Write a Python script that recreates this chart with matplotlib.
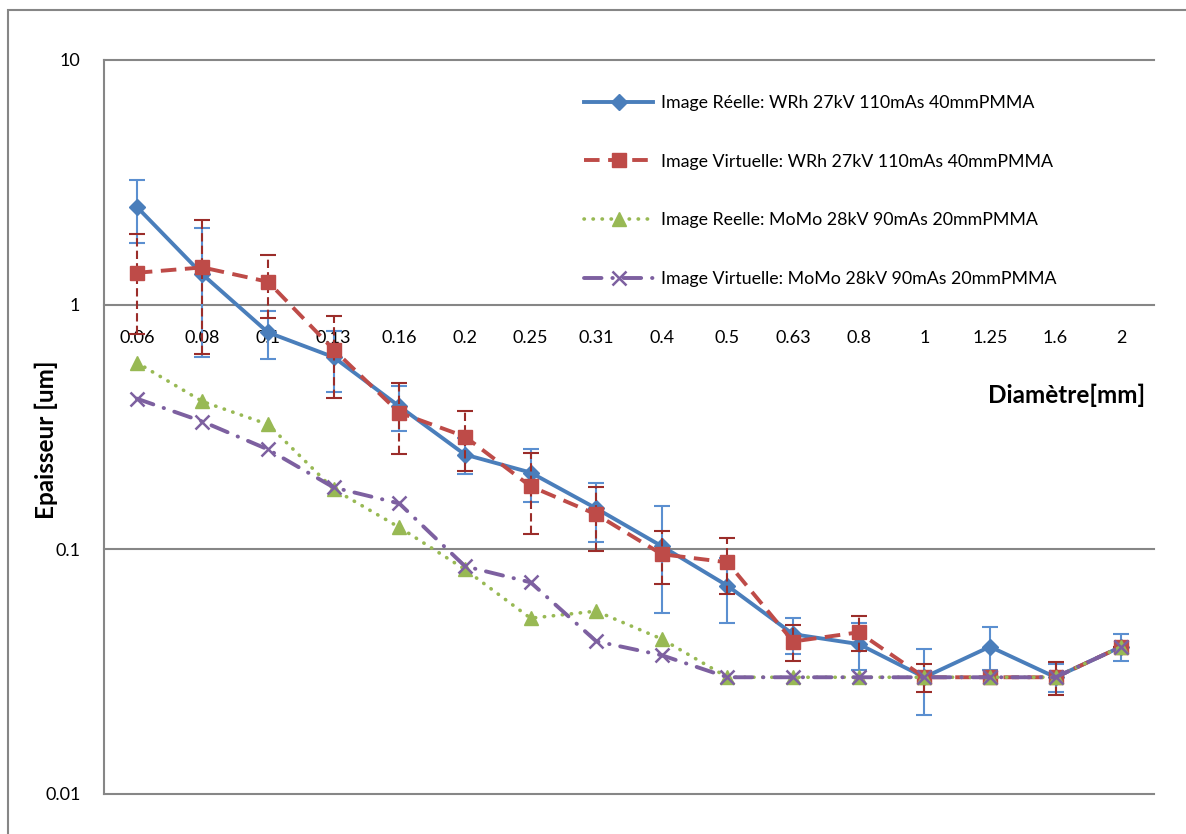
import matplotlib
matplotlib.use("Agg")
import matplotlib.pyplot as plt
from matplotlib.patches import Rectangle
from matplotlib.ticker import FixedLocator, FixedFormatter, NullLocator

plt.rcParams['font.family'] = ['Lato', 'DejaVu Sans']

# diamètres (catégories)
diametres = ['0.06', '0.08', '0.1', '0.13', '0.16', '0.2', '0.25', '0.31',
             '0.4', '0.5', '0.63', '0.8', '1', '1.25', '1.6', '2']

# épaisseurs
reelle_wrh = [2.51, 1.33, 0.77, 0.61, 0.384, 0.244, 0.206, 0.147,
              0.103, 0.071, 0.045, 0.041, 0.030, 0.040, 0.030, 0.040]
reelle_wrh_err = [0.72, 0.72, 0.17, 0.17, 0.08, 0.04, 0.05, 0.04,
                  0.048, 0.021, 0.0075, 0.009, 0.009, 0.008, 0.004, 0.005]

virt_wrh = [1.35, 1.42, 1.24, 0.655, 0.362, 0.289, 0.181, 0.139,
            0.0955, 0.0885, 0.042, 0.0458, 0.030, 0.030, 0.030, 0.040]
virt_wrh_err = [0.59, 0.79, 0.36, 0.24, 0.117, 0.08, 0.066, 0.041,
                0.023, 0.023, 0.007, 0.0075, 0.004, 0.0, 0.0047, 0.0]

reelle_momo = [0.58, 0.402, 0.324, 0.176, 0.123, 0.0828, 0.0523, 0.0559,
               0.043, 0.030, 0.030, 0.030, 0.030, 0.030, 0.030, 0.040]
virt_momo = [0.413, 0.333, 0.256, 0.179, 0.154, 0.0853, 0.0733, 0.0421,
             0.0369, 0.030, 0.030, 0.030, 0.030, 0.030, 0.030, 0.040]

labels = ['Image Réelle: WRh 27kV 110mAs 40mmPMMA',
          'Image Virtuelle: WRh 27kV 110mAs 40mmPMMA',
          'Image Reelle: MoMo 28kV 90mAs 20mmPMMA',
          'Image Virtuelle: MoMo 28kV 90mAs 20mmPMMA']

W, H = 1186, 834
fig = plt.figure(figsize=(W / 100, H / 100), dpi=100)
ax = fig.add_axes([104 / W, 1 - 794 / H, 1050 / W, 734 / H])
x = list(range(len(diametres)))
grey = '#868686'

# barres d'erreur
eb = ax.errorbar(x, reelle_wrh, yerr=reelle_wrh_err, fmt='none', ecolor='#5B8FD0',
                 elinewidth=1.5, capsize=6, capthick=1.5, zorder=2)
ax.plot(x, reelle_wrh, color='#4A7EBB', lw=2.8, marker='D', ms=8,
        label=labels[0], zorder=3)

eb2 = ax.errorbar(x, virt_wrh, yerr=virt_wrh_err, fmt='none', ecolor='#9B2D2A',
                  elinewidth=1.5, capsize=6, capthick=1.5, zorder=4)
eb2[2][0].set_linestyle((0, (4, 2)))
ax.plot(x, virt_wrh, color='#BE4B48', lw=2.8, dashes=(4, 2.2), marker='s', ms=10.5,
        label=labels[1], zorder=5)

ax.plot(x, reelle_momo, color='#98B954', lw=2.6, dashes=(0.1, 2.4),
        dash_capstyle='round', marker='^', ms=10.5, label=labels[2], zorder=6)
ax.plot(x, virt_momo, color='#7D60A0', lw=2.8, dashes=(4.5, 2.8, 0.1, 2.8),
        dash_capstyle='round', marker='x', ms=9.5, mew=1.8, label=labels[3], zorder=7)

ax.set_yscale('log')
ax.set_ylim(0.01, 10)
ax.set_xlim(-0.5, len(diametres) - 0.5)
ax.yaxis.set_major_locator(FixedLocator([0.01, 0.1, 1, 10]))
ax.yaxis.set_major_formatter(FixedFormatter(['0.01', '0.1', '1', '10']))
ax.yaxis.set_minor_locator(NullLocator())
ax.set_xticks(x)
ax.set_xticklabels(diametres)
ax.tick_params(axis='x', length=0, pad=18, labelsize=13)
ax.tick_params(axis='y', length=0, pad=17, labelsize=13)

for v in [0.01, 0.1, 10]:
    ax.axhline(v, color=grey, lw=1.5, zorder=1, clip_on=False)
# l'axe des abscisses croise à y = 1
ax.spines['bottom'].set_position(('data', 1))
ax.spines['bottom'].set_color(grey)
ax.spines['bottom'].set_linewidth(1.5)
ax.spines['bottom'].set_zorder(1)
for s in ['top', 'right']:
    ax.spines[s].set_visible(False)
ax.spines['left'].set_color(grey)
ax.spines['left'].set_linewidth(1.5)

fig.text(46 / W, 1 - 440 / H, 'Epaisseur [um]', rotation=90, ha='center',
         va='center', fontsize=17.5, fontweight='bold')
fig.text(1145 / W, 1 - 395 / H, 'Diamètre[mm]', ha='right', va='center',
         fontsize=17.5, fontweight='bold')

ax.legend(loc='upper left', bbox_to_anchor=(575 / W, 1 - 86 / H),
          bbox_transform=fig.transFigure, frameon=False, fontsize=12.8,
          handlelength=3.9, handletextpad=0.45, labelspacing=2.4, numpoints=1,
          borderpad=0)

# cadre extérieur du graphique
fig.add_artist(Rectangle((8 / W, -0.1), 1.2, 1 - 10 / H + 0.1, fill=False,
                         edgecolor=grey, lw=1.5, transform=fig.transFigure))

fig.savefig('out.png', dpi=100)
